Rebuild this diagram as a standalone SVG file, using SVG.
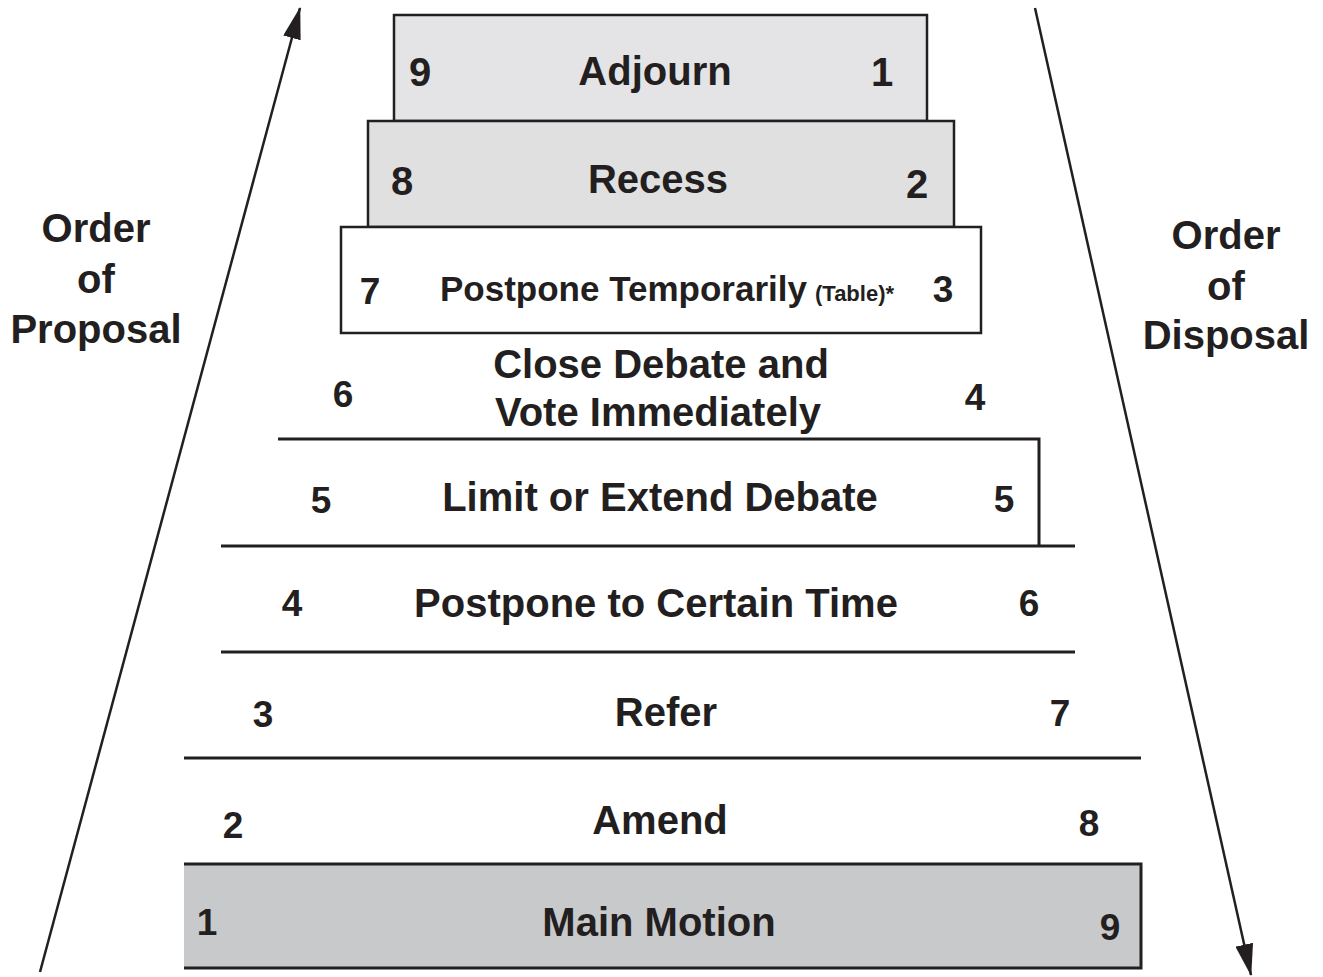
<svg xmlns="http://www.w3.org/2000/svg" width="1323" height="977" viewBox="0 0 1323 977">
<style>
text{font-family:"Liberation Sans",Arial,sans-serif;font-weight:bold;fill:#231f20;font-size:40px;text-anchor:middle}
.ln{stroke:#231f20;stroke-width:3;fill:none}
.box{stroke:#231f20;stroke-width:2.5}
.ar{stroke:#231f20;stroke-width:2.5;fill:none}
.num{font-size:37px}
</style>
<defs>
<marker id="ahb" viewBox="0 0 32 18" refX="31" refY="9" markerWidth="32" markerHeight="18" markerUnits="userSpaceOnUse" orient="auto">
<path d="M0,0 L32,9 L0,18 Z" fill="#231f20"/>
</marker>
</defs>
<rect width="1323" height="977" fill="#ffffff"/>
<g id="connectors">
<line class="ar" x1="40" y1="972" x2="300" y2="8" marker-end="url(#ahb)"/>
<line class="ar" x1="1035" y1="8" x2="1251" y2="975" marker-end="url(#ahb)"/>
</g>
<g id="order-proposal">
<text x="96" y="242">Order</text>
<text x="96" y="293">of</text>
<text x="96" y="343">Proposal</text>
</g>
<g id="order-disposal">
<text x="1226" y="249">Order</text>
<text x="1226" y="300">of</text>
<text x="1226" y="349">Disposal</text>
</g>
<g id="adjourn">
<rect class="box" x="394" y="15" width="533" height="106" fill="#e4e4e6"/>
<text x="655" y="85">Adjourn</text>
<text x="420" y="86">9</text>
<text x="882" y="86">1</text>
</g>
<g id="recess">
<rect class="box" x="368" y="121" width="586" height="106" fill="#e0e0e1"/>
<text x="658" y="193">Recess</text>
<text x="402" y="195">8</text>
<text x="917" y="198">2</text>
</g>
<g id="postpone-temporarily">
<rect class="box" x="341" y="227" width="640" height="106" fill="#ffffff"/>
<text x="440" y="301" style="font-size:35px;text-anchor:start">Postpone Temporarily</text>
<text x="815" y="301" style="font-size:22px;text-anchor:start">(Table)*</text>
<text x="370" y="304" class="num">7</text>
<text x="943" y="302" class="num">3</text>
</g>
<g id="close-debate">
<text x="661" y="378">Close Debate and</text>
<text x="658" y="426">Vote Immediately</text>
<text x="343" y="407" class="num">6</text>
<text x="975" y="410" class="num">4</text>
</g>
<g id="limit-extend">
<polyline class="ln" points="278,439 1039,439 1039,546"/>
<text x="660" y="511">Limit or Extend Debate</text>
<text x="321" y="513" class="num">5</text>
<text x="1004" y="512" class="num">5</text>
</g>
<g id="postpone-certain">
<line class="ln" x1="221" y1="546" x2="1075" y2="546"/>
<text x="656" y="617">Postpone to Certain Time</text>
<text x="292" y="616" class="num">4</text>
<text x="1029" y="616" class="num">6</text>
</g>
<g id="refer">
<line class="ln" x1="221" y1="652" x2="1075" y2="652"/>
<text x="666" y="726">Refer</text>
<text x="263" y="727" class="num">3</text>
<text x="1060" y="726" class="num">7</text>
</g>
<g id="amend">
<line class="ln" x1="184" y1="758" x2="1141" y2="758"/>
<text x="660" y="834">Amend</text>
<text x="233" y="838" class="num">2</text>
<text x="1089" y="836" class="num">8</text>
</g>
<g id="main-motion">
<rect x="184" y="864" width="957" height="104" fill="#c8c9cb"/>
<polyline class="ln" points="184,864 1141,864 1141,968 184,968"/>
<text x="659" y="936">Main Motion</text>
<text x="207" y="935" class="num">1</text>
<text x="1110" y="940" class="num">9</text>
</g>
</svg>
